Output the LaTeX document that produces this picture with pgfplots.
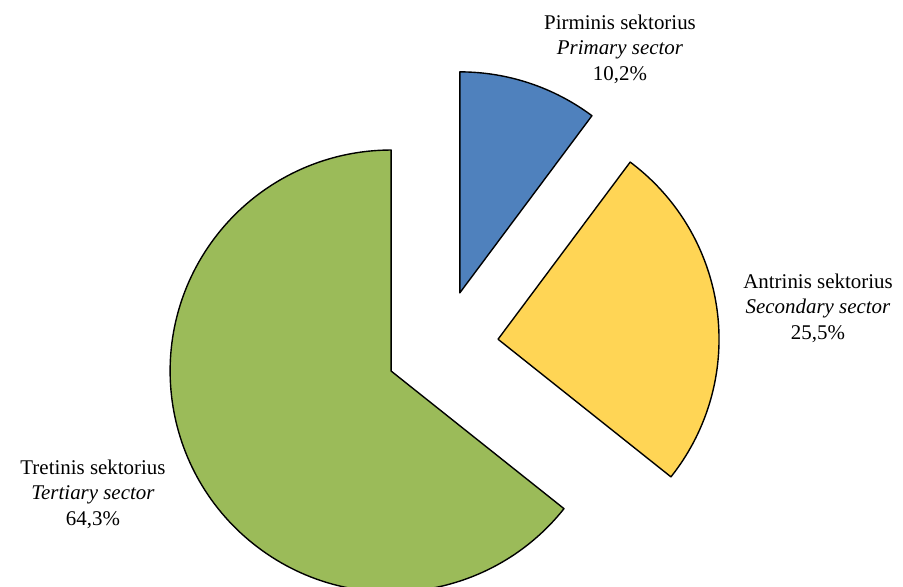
\documentclass[border=0pt]{standalone}
\usepackage{pgfplots}
\pgfplotsset{compat=1.18}
\usepackage{fontspec}
\setmainfont{Liberation Serif}
\definecolor{cblue}{RGB}{79,129,189}
\definecolor{cyellow}{RGB}{255,213,85}
\definecolor{cgreen}{RGB}{155,187,89}
% data (percent)
\def\vA{10.2}\def\vB{25.5}\def\vC{64.3}
\def\cx{442}\def\cy{240.5}\def\rad{221}\def\expl{56.5}
\newcommand\piewedge[3]{% start angle, end angle, colour
  \pgfmathsetmacro\midang{(#1+#2)/2}%
  \pgfmathsetmacro\vx{\cx+\expl*cos(\midang)}%
  \pgfmathsetmacro\vy{\cy+\expl*sin(\midang)}%
  \edef\dowedge{\noexpand\filldraw[fill=#3,draw=black,line width=1.4pt,line join=round]
    (axis cs:\vx,\vy) -- ++(#1:\rad bp) arc[start angle=#1,end angle=#2,radius=\rad bp] -- cycle;}%
  \dowedge
}
\tikzset{lbl/.style={font=\fontsize{21}{25.5}\selectfont,align=center}}
\begin{document}
\begin{tikzpicture}
\pgfmathsetmacro\aA{90}
\pgfmathsetmacro\aB{\aA-3.6*\vA}
\pgfmathsetmacro\aC{\aB-3.6*\vB}
\pgfmathsetmacro\aD{\aC-3.6*\vC}
\begin{axis}[width=903bp,height=587bp,scale only axis,
  xmin=0,xmax=903,ymin=0,ymax=587,axis lines=none]
\piewedge{\aA}{\aB}{cblue}
\piewedge{\aB}{\aC}{cyellow}
\piewedge{\aC}{\aD}{cgreen}
\node[lbl] at (axis cs:620,538) {Pirminis sektorius\\\textit{Primary sector}\\10,2\%};
\node[lbl] at (axis cs:818,279) {Antrinis sektorius\\\textit{Secondary sector}\\25,5\%};
\node[lbl] at (axis cs:93,93) {Tretinis sektorius\\\textit{Tertiary sector}\\64,3\%};
\end{axis}
\pgfresetboundingbox
\path (current axis.south west) rectangle (current axis.north east);
\end{tikzpicture}
\end{document}
